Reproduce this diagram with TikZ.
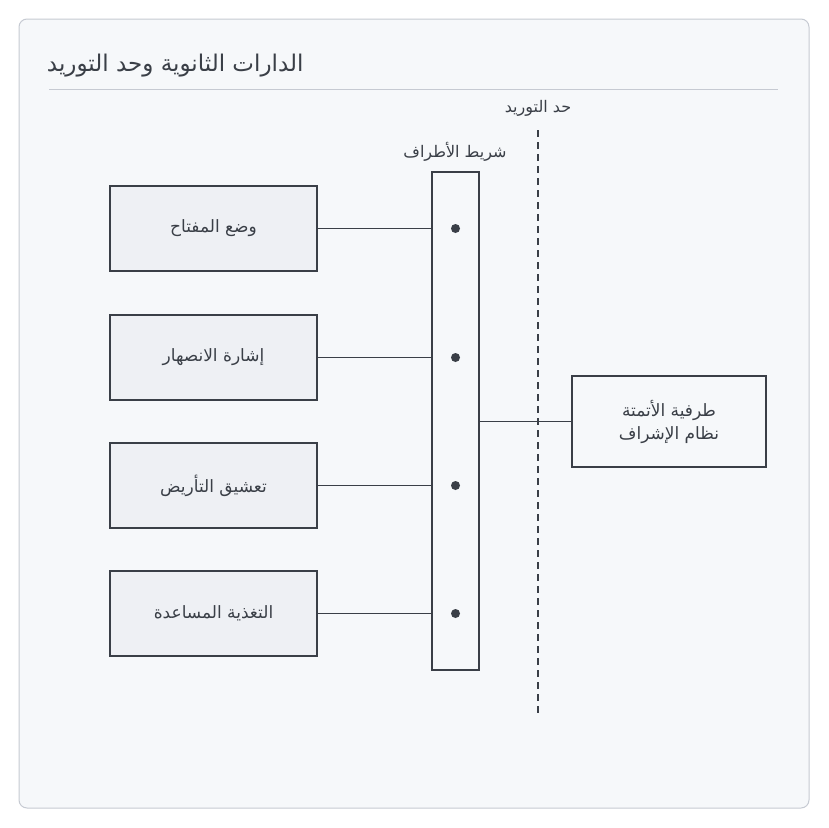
\documentclass[tikz,border=0pt]{standalone}
\usepackage{fontspec}
\newfontfamily\arabicfont[Script=Arabic]{DejaVu Sans}
\TeXXeTstate=1
\newcommand{\ar}[1]{{\arabicfont\beginR #1\endR}}
\usetikzlibrary{positioning}
\definecolor{framegray}{HTML}{C6CAD2}
\definecolor{bgpaper}{HTML}{F6F8FA}
\definecolor{boxfill}{HTML}{EEF0F4}
\definecolor{ink}{HTML}{3A3F47}
\begin{document}
\begin{tikzpicture}[x=1pt,y=-1pt]
    \tikzstyle{wire}  = [draw=ink,line width=1.3pt]
    \tikzstyle{circ}=[
      rectangle,
      draw=ink,
      fill=boxfill,
      line width=1.3pt,
      minimum width=207pt,
      minimum height=85pt,
      text=ink,
      font=\fontsize{17}{20}\selectfont,
    ]
    \useasboundingbox (0,0) rectangle (828,828);
    \draw[framegray,fill=bgpaper,rounded corners=8pt,line width=1pt] (19,19) rectangle (809,808);
    \node[anchor=east,text=ink,font=\fontsize{23}{27}\selectfont] (title) at (307,66)
      {\ar{الدارات الثانوية وحد التوريد}};
    \draw[framegray,line width=1pt] (49,89) -- (778,89);

    % terminal strip
    \node[draw=ink,line width=1.3pt,fill=bgpaper,minimum width=47pt,minimum height=498pt,inner sep=0pt]
      (strip) at (455.5,421) {};
    \node[text=ink,font=\fontsize{16}{19}\selectfont] (strip_label) at (455,152) {\ar{شريط الأطراف}};

    % left circuits
    \node[circ] (key)   at (213.5,228.5) {\ar{وضع المفتاح}};
    \node[circ] (fuse)  at (213.5,357.5) {\ar{إشارة الانصهار}};
    \node[circ] (earth) at (213.5,485.5) {\ar{تعشيق التأريض}};
    \node[circ] (aux)   at (213.5,613.5) {\ar{التغذية المساعدة}};
    \foreach \c in {key,fuse,earth,aux} {
      \coordinate (t_\c) at (strip.center |- \c.east);
      \draw[wire] (\c.east) -- (strip.west |- \c.east);
      \fill[ink] (t_\c) circle (4.5pt);
    }

    % supply boundary
    \coordinate (bnd_top) at (538,130);
    \coordinate (bnd_bot) at (538,716);
    \draw[ink,line width=1.3pt,dash pattern=on 7pt off 5pt] (bnd_top) -- (bnd_bot);
    \node[text=ink,font=\fontsize{16}{19}\selectfont] (bnd_label) at (538,108) {\ar{حد التوريد}};

    % scada terminal
    \node[circ,minimum width=194pt,minimum height=91pt,fill=bgpaper,align=center] (scada) at (669,421.5)
      {\ar{طرفية الأتمتة}\\[3pt]\ar{نظام الإشراف}};
    \draw[wire] (strip.east |- scada.west) -- (scada.west);
\end{tikzpicture}
\end{document}
